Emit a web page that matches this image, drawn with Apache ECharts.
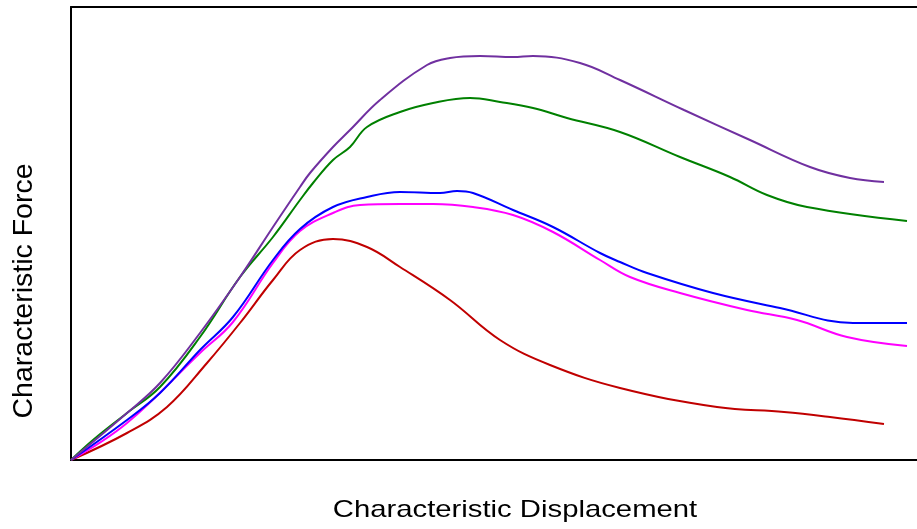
<!DOCTYPE html>
<html>
<head>
<meta charset="utf-8">
<script src="https://cdn.jsdelivr.net/npm/echarts@6/dist/echarts.min.js"></script>
<style>
  html, body { margin: 0; padding: 0; background: #fff; }
  #chart { width: 917px; height: 529px; }
</style>
</head>
<body>
<div id="chart"></div>
<script>
// curve points [displacement, force] (arbitrary units)
const purpleCurve = [[0,0],[56,47],[89,77],[129,127],[169,183],[202,233],[229,273],[239,287],[262,313],[279,330],[309,360],[356,395],[379,402],[409,404],[442,403],[462,404],[509,397],[549,380],[613,350],[679,320],[739,293],[779,282],[813,278]]
const greenCurve = [[0,0],[22,20],[56,47],[89,73],[129,123],[169,183],[202,223],[229,260],[242,277],[262,300],[279,313],[296,333],[329,348],[362,357],[399,362],[429,358],[462,352],[496,342],[549,328],[609,303],[659,283],[696,265],[736,253],[836,239]]
const blueCurve = [[0,0],[56,40],[89,67],[129,110],[162,143],[202,200],[229,231],[262,253],[296,263],[329,268],[369,267],[386,269],[402,267],[442,250],[482,233],[529,207],[549,198],[576,187],[642,167],[709,152],[782,137],[809,137],[836,137]]
const magentaCurve = [[0,0],[56,37],[129,107],[162,138],[202,197],[229,229],[262,247],[289,255],[329,256],[362,256],[402,253],[442,245],[482,228],[529,200],[559,183],[609,167],[676,150],[726,140],[776,123],[836,114]]
const redCurve = [[0,0],[56,27],[96,53],[136,97],[169,137],[202,180],[229,210],[262,221],[296,213],[329,193],[379,160],[429,120],[479,95],[549,72],[646,53],[713,48],[759,43],[813,36]]

const xTitle = 'Characteristic Displacement'
const yTitle = 'Characteristic Force'

const chart = echarts.init(document.getElementById('chart'))

const makeLine = (name, data, color) => ({
  name,
  type: 'line',
  data,
  smooth: 0.4,
  showSymbol: false,
  lineStyle: { color, width: 2 },
  itemStyle: { color }
})

const frameLine = { show: true, onZero: false, lineStyle: { color: '#000', width: 2 } }

const option = {
  animation: false,
  grid: {
    left: 71,
    top: 7,
    right: 0,
    bottom: 69
  },
  xAxis: [
    {
      type: 'value',
      position: 'bottom',
      min: 0,
      max: 846,
      axisLine: frameLine,
      axisTick: { show: false },
      axisLabel: { show: false },
      splitLine: { show: false }
    },
    {
      // top edge of the frame
      type: 'value',
      position: 'top',
      min: 0,
      max: 846,
      axisLine: frameLine,
      axisTick: { show: false },
      axisLabel: { show: false },
      splitLine: { show: false }
    }
  ],
  yAxis: {
    type: 'value',
    min: 0,
    max: 453,
    axisLine: frameLine,
    axisTick: { show: false },
    axisLabel: { show: false },
    splitLine: { show: false }
  },
  graphic: [
    {
      type: 'text',
      x: 515,
      y: 510,
      scaleX: 1.22,
      style: {
        text: xTitle,
        font: '24px "Liberation Sans", Arial, sans-serif',
        fill: '#000',
        align: 'center',
        verticalAlign: 'middle'
      }
    },
    {
      type: 'text',
      x: 24,
      y: 291,
      rotation: Math.PI / 2,
      style: {
        text: yTitle,
        font: '28.5px "Liberation Sans", Arial, sans-serif',
        fill: '#000',
        align: 'center',
        verticalAlign: 'middle'
      }
    }
  ],
  series: [
    makeLine('red', redCurve, '#c00000'),
    makeLine('magenta', magentaCurve, '#ff00ff'),
    makeLine('blue', blueCurve, '#0000ff'),
    makeLine('green', greenCurve, '#008000'),
    makeLine('purple', purpleCurve, '#7030a0')
  ]
}

chart.setOption(option)
</script>
</body>
</html>
